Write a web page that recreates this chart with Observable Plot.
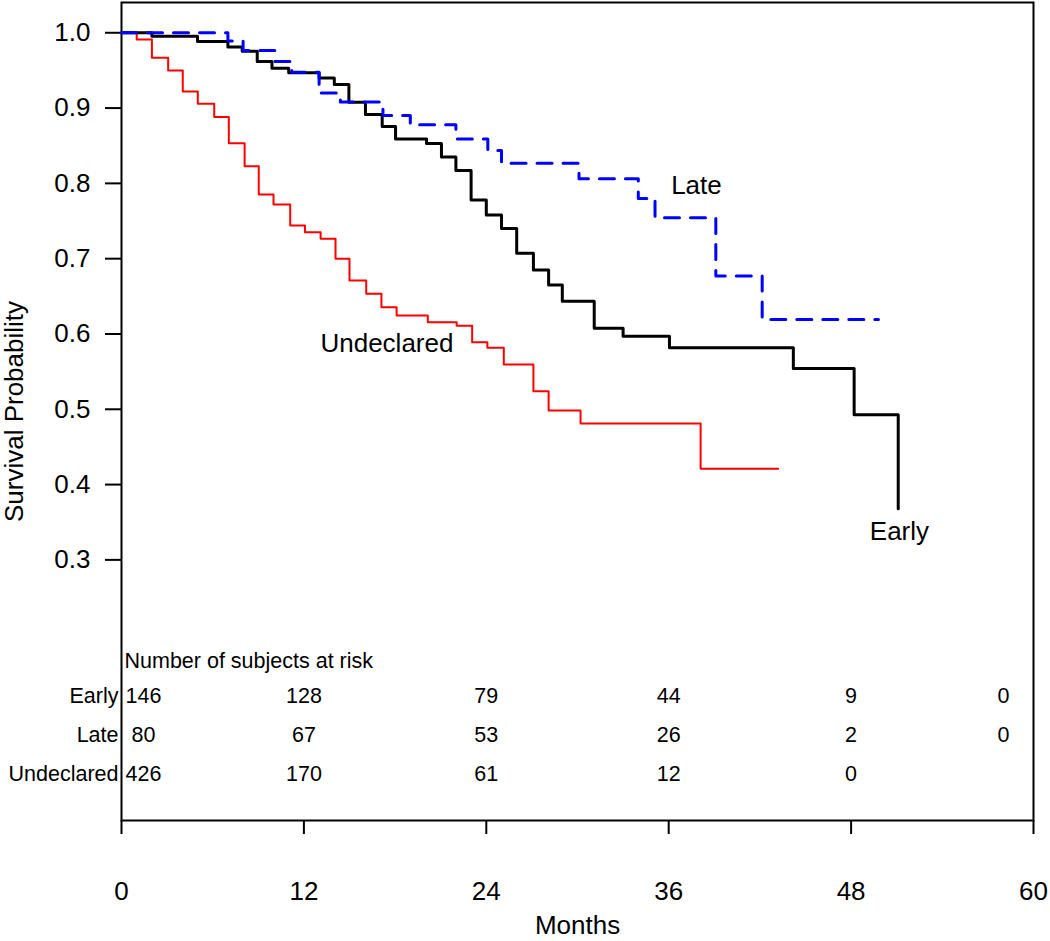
<!DOCTYPE html>
<html><head><meta charset="utf-8">
<script src="https://cdn.jsdelivr.net/npm/d3@7"></script>
<script src="https://cdn.jsdelivr.net/npm/@observablehq/plot@0.6"></script>
<style>body{margin:0;background:#fff;} svg{display:block}</style>
</head><body><div id="chart"></div>
<script>
// Kaplan-Meier step data (month, survival probability)
const earlyMonths = [0, 2.0, 5.0, 7.0, 7.94, 8.93, 9.9, 11.0, 13.0, 14.0, 14.96, 16.05, 17.15, 18.03, 20.07, 21.05, 22.0, 23.0, 24.0, 25.0, 26.0, 27.1, 28.1, 29.0, 31.1, 33.0, 36.05, 44.2, 48.2, 51.1];
const earlySurv   = [1.0, 0.9955, 0.9884, 0.981, 0.9756, 0.962, 0.953, 0.947, 0.940, 0.9313, 0.9078, 0.8915, 0.8756, 0.859, 0.853, 0.835, 0.817, 0.778, 0.758, 0.740, 0.7073, 0.685, 0.665, 0.6436, 0.6077, 0.597, 0.5817, 0.554, 0.4927, 0.368];

const lateMonths = [0, 7.0, 8.0, 10.1, 11.2, 13.0, 14.4, 17.2, 19.0, 22.0, 24.1, 25.0, 30.1, 34.0, 35.1, 39.1, 42.15, 49.8];
const lateSurv   = [1.0, 0.989, 0.9765, 0.962, 0.9477, 0.920, 0.908, 0.890, 0.878, 0.859, 0.8437, 0.8268, 0.806, 0.780, 0.7543, 0.677, 0.6193, 0.6193];

const undeclaredMonths = [0, 1.0, 2.0, 3.07, 4.03, 5.02, 6.1, 7.06, 8.1, 9.03, 10.0, 11.1, 12.07, 13.1, 14.08, 15.0, 16.1, 17.1, 18.1, 20.15, 22.05, 23.07, 24.07, 25.15, 27.1, 28.1, 30.2, 38.1, 43.2];
const undeclaredSurv   = [1.0, 0.991, 0.9668, 0.950, 0.922, 0.9057, 0.888, 0.8534, 0.8228, 0.7853, 0.772, 0.744, 0.735, 0.7264, 0.700, 0.671, 0.6533, 0.6356, 0.6246, 0.6157, 0.611, 0.589, 0.5817, 0.5595, 0.524, 0.4984, 0.481, 0.421, 0.421];

// Axis ticks
const xTicks = [0, 12, 24, 36, 48, 60];
const yTicks = [0.3, 0.4, 0.5, 0.6, 0.7, 0.8, 0.9, 1.0];

// Curve labels
const labelNames  = ["Late", "Undeclared", "Early"];
const labelMonths = [36.16, 13.09, 49.23];
const labelSurv   = [0.7966, 0.5874, 0.3368];

// Number at risk table
const riskGroups = ["Early", "Late", "Undeclared"];
const riskTimes = [0, 12, 24, 36, 48, 60];
const riskEarly = [146, 128, 79, 44, 9, 0];
const riskLate = [80, 67, 53, 26, 2, 0];
const riskUndeclared = [426, 170, 61, 12, 0, null];
const riskTitle = "Number of subjects at risk";

const toRows = (months, surv) => months.map((m, i) => ({month: m, surv: surv[i]}));
const early = toRows(earlyMonths, earlySurv);
const late = toRows(lateMonths, lateSurv);
const undeclared = toRows(undeclaredMonths, undeclaredSurv);
const labels = labelNames.map((n, i) => ({name: n, month: labelMonths[i], surv: labelSurv[i]}));

const riskSeries = [riskEarly, riskLate, riskUndeclared];
const rowDy = [-118, -79, -40];
const riskFont = 21.5;
const riskMarks = [];
riskSeries.forEach((vals, r) => {
  const rows = riskTimes.map((t, i) => ({time: t, n: vals[i]})).filter(d => d.n != null);
  const first = rows.filter(d => d.time === riskTimes[0]);
  const last = rows.filter(d => d.time === riskTimes[riskTimes.length - 1]);
  const mid = rows.filter(d => d.time !== riskTimes[0] && d.time !== riskTimes[riskTimes.length - 1]);
  const common = {x: "time", text: d => String(d.n), frameAnchor: "bottom", textAnchor: "middle", dy: rowDy[r], fontSize: riskFont, fill: "#000"};
  riskMarks.push(Plot.text(first, {...common, dx: 22}));
  riskMarks.push(Plot.text(mid, {...common}));
  riskMarks.push(Plot.text(last, {...common, dx: -30}));
  riskMarks.push(Plot.text([riskGroups[r]], {x: () => 0, text: d => d, frameAnchor: "bottom", dy: rowDy[r], dx: -3, textAnchor: "end", fontSize: riskFont, fill: "#000"}));
});
riskMarks.push(Plot.text([riskTitle], {x: () => 0, text: d => d, frameAnchor: "bottom", dy: -153, dx: 3, textAnchor: "start", fontSize: riskFont, fill: "#000"}));

const chart = Plot.plot({
  width: 1050, height: 941,
  marginLeft: 121, marginRight: 17, marginTop: 2, marginBottom: 121,
  style: {fontFamily: "'Liberation Sans', Arial, sans-serif", fontSize: "26px", color: "#000", background: "#fff", overflow: "visible"},
  x: {domain: [0, 60]},
  y: {domain: [-0.0461, 1.0402]},
  marks: [
    Plot.frame({stroke: "#000", strokeWidth: 2}),
    Plot.axisY({ticks: yTicks, tickSize: 16, tickPadding: 15, tickFormat: d3.format(".1f"), label: null, strokeWidth: 2, fontSize: 26}),
    Plot.axisX({ticks: xTicks, tickSize: 14, tickPadding: 47, label: null, strokeWidth: 2, fontSize: 26}),
    Plot.line(undeclared, {x: "month", y: "surv", curve: "step-after", stroke: "#ff0000", strokeWidth: 2}),
    Plot.line(early, {x: "month", y: "surv", curve: "step-after", stroke: "#000", strokeWidth: 3}),
    Plot.line(late, {x: "month", y: "surv", curve: "step-after", stroke: "#0000ff", strokeWidth: 3, strokeDasharray: "15,11"}),
    Plot.text(labels, {x: "month", y: "surv", text: "name", textAnchor: "start", fontSize: 26, fill: "#000"}),
    Plot.text(["Survival Probability"], {frameAnchor: "left", textAnchor: "middle", rotate: -90, dx: -107, fontSize: 26, fill: "#000"}),
    Plot.text(["Months"], {frameAnchor: "bottom", textAnchor: "middle", dy: 113, fontSize: 26, fill: "#000"}),
    ...riskMarks
  ]
});
document.getElementById("chart").appendChild(chart);
</script>
</body></html>
